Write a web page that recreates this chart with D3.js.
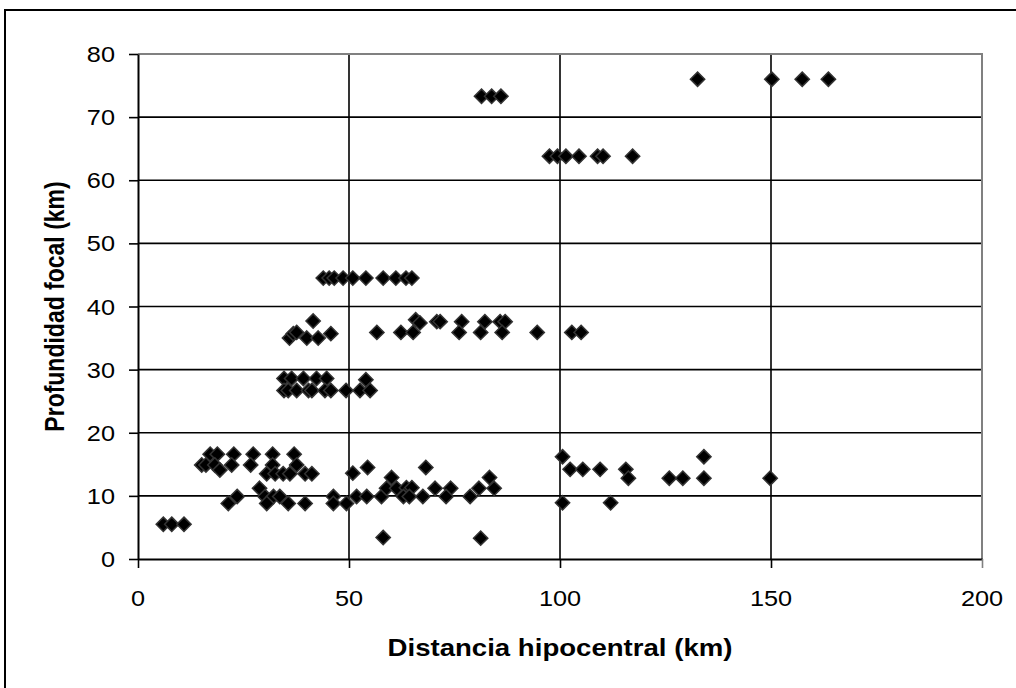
<!DOCTYPE html>
<html>
<head>
<meta charset="utf-8">
<script src="https://cdn.jsdelivr.net/npm/d3@7"></script>
<style>
  html, body { margin: 0; padding: 0; background: #fff; }
  svg { display: block; }
  text { font-family: "Liberation Sans", Arial, sans-serif; fill: #000; }
</style>
</head>
<body>
<script>
// ---- Data ----
const distancia = [
  132.6, 150.2, 157.4, 163.6,
  81.4, 83.8, 86.0,
  97.5, 99.4, 101.4, 104.5, 108.9, 110.2, 117.2,
  43.9, 45.3, 46.5, 48.6, 50.9, 54.0, 58.1, 61.1, 63.5, 64.9,
  41.5, 65.8, 66.8,
  70.8, 71.6, 76.7, 82.2, 85.8, 87.0,
  76.1, 81.2, 86.3, 94.6, 102.8, 105.0,
  35.9, 36.8, 37.6, 40.0, 42.7, 45.7, 56.6, 62.3, 65.2,
  34.6, 36.4, 39.2, 42.3, 44.7, 54.0,
  34.6, 35.6, 37.6, 40.4, 41.2, 44.3, 45.7, 49.3, 52.6, 55.0,
  17.1, 18.8, 22.7, 27.3, 31.9, 37.0,
  15.1, 16.1, 18.2, 22.2, 26.7, 31.9, 37.6,
  19.4,
  30.5, 32.5, 34.4, 36.0, 39.6, 41.2,
  28.8,
  23.5, 30.1, 32.1, 33.6, 46.3, 51.8, 54.2, 57.7,
  21.4, 30.5, 35.6, 39.6, 46.3, 49.4,
  6.0, 8.0, 10.9,
  58.1,
  50.9, 54.4,
  60.1, 58.9, 61.3, 63.6, 64.9, 62.9, 64.3, 67.5, 68.2,
  70.4, 74.1, 80.8, 84.4, 73.0, 78.7, 83.3, 81.2,
  100.6, 134.1, 102.4, 105.4, 109.5, 115.6,
  116.2, 125.9, 129.1, 134.1, 149.8,
  100.6, 112.0
];
const profundidad = [
  76.0, 76.0, 76.0, 76.0,
  73.3, 73.3, 73.3,
  63.8, 63.8, 63.8, 63.8, 63.8, 63.8, 63.8,
  44.5, 44.5, 44.5, 44.5, 44.5, 44.5, 44.5, 44.5, 44.5, 44.5,
  37.7, 37.9, 37.4,
  37.6, 37.6, 37.6, 37.6, 37.6, 37.6,
  35.9, 35.9, 35.9, 35.9, 35.9, 35.9,
  35.0, 35.7, 35.9, 35.0, 35.0, 35.7, 35.9, 35.9, 35.9,
  28.6, 28.6, 28.6, 28.6, 28.6, 28.4,
  26.7, 26.7, 26.7, 26.7, 26.7, 26.7, 26.7, 26.7, 26.7, 26.7,
  16.6, 16.6, 16.6, 16.6, 16.6, 16.6,
  14.9, 14.9, 14.9, 14.9, 14.9, 14.9, 14.9,
  14.1,
  13.5, 13.5, 13.5, 13.5, 13.5, 13.5,
  11.2,
  9.9, 9.9, 9.9, 9.9, 9.9, 9.9, 9.9, 9.9,
  8.8, 8.8, 8.8, 8.8, 8.8, 8.8,
  5.5, 5.5, 5.5,
  3.4,
  13.6, 14.5,
  12.9, 11.2, 11.2, 11.3, 11.3, 9.9, 9.9, 9.9, 14.5,
  11.2, 11.2, 11.2, 11.2, 9.9, 9.9, 12.9, 3.3,
  16.2, 16.2, 14.2, 14.2, 14.2, 14.2,
  12.8, 12.8, 12.8, 12.8, 12.8,
  8.9, 8.9
];
const xTicks = [0, 50, 100, 150, 200];
const yTicks = [0, 10, 20, 30, 40, 50, 60, 70, 80];
const xTitle = "Distancia hipocentral (km)";
const yTitle = "Profundidad focal (km)";

// ---- Layout ----
const W = 1016, H = 688;
const mL = 138, mR = 982, mT = 54, mB = 559;
const SX = 1.15; // horizontal stretch of the lettering

const svg = d3.select("body").append("svg").attr("width", W).attr("height", H);
svg.append("rect").attr("width", W).attr("height", H).attr("fill", "#fff");

// outer frame (extends past right/bottom edges)
svg.append("rect").attr("x", 5).attr("y", 10).attr("width", W + 10).attr("height", H + 10)
  .attr("fill", "none").attr("stroke", "#000").attr("stroke-width", 2);

const x = d3.scaleLinear().domain([0, 200]).range([mL, mR]);
const y = d3.scaleLinear().domain([0, 80]).range([mB, mT]);

// gridlines
const grid = svg.append("g");
grid.selectAll("line.h").data(yTicks.filter(d => d > 0 && d < 80)).join("line")
  .attr("class", "h")
  .attr("x1", mL).attr("x2", mR).attr("y1", d => y(d)).attr("y2", d => y(d))
  .attr("stroke", "#000").attr("stroke-width", 1.6);
grid.selectAll("line.v").data(xTicks.filter(d => d > 0 && d < 200)).join("line")
  .attr("class", "v")
  .attr("x1", d => x(d)).attr("x2", d => x(d)).attr("y1", mT).attr("y2", mB)
  .attr("stroke", "#000").attr("stroke-width", 1.6);

// plot border top/right (gray)
svg.append("path")
  .attr("d", `M${mL},${mT}H${mR}V${mB}`)
  .attr("fill", "none").attr("stroke", "#808080").attr("stroke-width", 2);

// axes (lines + ticks from d3 axis; labels drawn below with stretch)
const xAxis = d3.axisBottom(x).tickValues(xTicks).tickSize(9).tickFormat("").tickSizeOuter(0);
const yAxis = d3.axisLeft(y).tickValues(yTicks).tickSize(9).tickFormat("").tickSizeOuter(0);

const gx = svg.append("g").attr("transform", `translate(0,${mB})`).call(xAxis);
const gy = svg.append("g").attr("transform", `translate(${mL},0)`).call(yAxis);
[gx, gy].forEach(g => {
  g.select(".domain").attr("stroke", "#000").attr("stroke-width", 2);
  g.selectAll(".tick line").attr("stroke", "#000").attr("stroke-width", 1.6);
  g.selectAll(".tick text").remove();
});
gx.selectAll(".tick line").filter(d => d === 200).attr("stroke", "#808080");

// tick labels
svg.append("g").selectAll("text").data(xTicks).join("text")
  .attr("transform", d => `translate(${x(d)},606) scale(${SX},1)`)
  .attr("text-anchor", "middle").attr("font-size", 22)
  .text(d => d);
svg.append("g").selectAll("text").data(yTicks).join("text")
  .attr("transform", d => `translate(115,${y(d) + 8}) scale(${SX},1)`)
  .attr("text-anchor", "end").attr("font-size", 22)
  .text(d => d);

// axis titles
svg.append("text")
  .attr("transform", `translate(${(mL + mR) / 2},656) scale(1.2,1)`)
  .attr("text-anchor", "middle").attr("font-size", 23).attr("font-weight", "bold")
  .text(xTitle);
svg.append("text")
  .attr("transform", `translate(64,${(mT + mB) / 2}) scale(1.2,1) rotate(-90)`)
  .attr("text-anchor", "middle").attr("font-size", 23).attr("font-weight", "bold")
  .text(yTitle);

// points (diamonds)
const pts = distancia.map((d, i) => ({ d, p: profundidad[i] }));
const diamond = d3.symbol().type(d3.symbolDiamond2).size(130);
svg.append("g").selectAll("path").data(pts).join("path")
  .attr("transform", o => `translate(${x(o.d)},${y(o.p)})`)
  .attr("d", diamond)
  .attr("fill", "#000").attr("stroke", "#333").attr("stroke-width", 1.5);
</script>
</body>
</html>
